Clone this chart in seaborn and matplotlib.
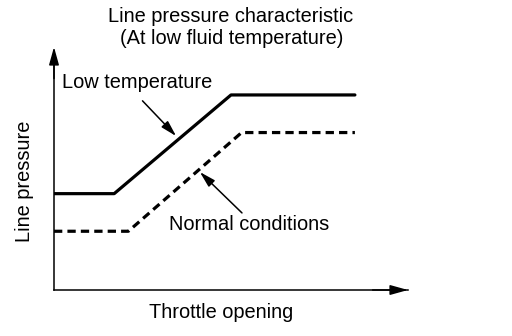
import matplotlib
matplotlib.use("Agg")
import matplotlib.pyplot as plt
import seaborn as sns
import pandas as pd

# Throttle opening vs. line pressure (schematic, relative units 0-100)
low_temp_x = [0, 17, 50, 85]
low_temp_y = [41, 41, 83, 83]
normal_x = [0, 21, 53, 85]
normal_y = [25, 25, 67, 67]

df = pd.concat([
    pd.DataFrame({"throttle": low_temp_x, "pressure": low_temp_y, "state": "Low temperature"}),
    pd.DataFrame({"throttle": normal_x, "pressure": normal_y, "state": "Normal conditions"}),
])

sns.set_theme(style="white")
plt.rcParams["font.family"] = ["Liberation Sans", "DejaVu Sans"]

W, H = 512, 336
fig = plt.figure(figsize=(W / 100, H / 100), dpi=100)
ox, oy, xt, yt = 54, 290, 408, 55
ax = fig.add_axes([ox / W, 1 - oy / H, (xt - ox) / W, (oy - yt) / H])

sns.lineplot(data=df, x="throttle", y="pressure", style="state",
             dashes={"Low temperature": "", "Normal conditions": (2.6, 1.6)},
             color="black", linewidth=2.3, legend=False, ax=ax, sort=False)

ax.set_xlim(0, 100)
ax.set_ylim(0, 100)
ax.set_xticks([])
ax.set_yticks([])
ax.set_xlabel("")
ax.set_ylabel("")
for s in ["top", "right"]:
    ax.spines[s].set_visible(False)
for s in ["left", "bottom"]:
    ax.spines[s].set_color("black")
    ax.spines[s].set_linewidth(1.1)

# axis arrowheads
head = dict(arrowstyle="-|>,head_length=0.9,head_width=0.25", color="black", lw=1.1,
            shrinkA=0, shrinkB=0)
ax.annotate("", xy=(0, 1 + 8 / (oy - yt)), xytext=(0, 0.9), xycoords="axes fraction",
            arrowprops=head, annotation_clip=False)
ax.annotate("", xy=(1, 0), xytext=(0.9, 0), xycoords="axes fraction",
            arrowprops=head, annotation_clip=False)

# callouts
pointer = dict(arrowstyle="-|>,head_length=0.8,head_width=0.22", color="black", lw=1.1,
               shrinkA=0, shrinkB=0)
ax.annotate("", xy=(34.5, 65.5), xytext=(25, 80.5), arrowprops=pointer)
ax.annotate("", xy=(41.2, 50.2), xytext=(53.1, 32.8), arrowprops=pointer)

fs = 14.4


def ptext(x, y, s, **kw):
    fig.text(x / W, 1 - y / H, s, fontsize=fs, color="black", va="center", **kw)


ptext(231, 16, "Line pressure characteristic", ha="center")
ptext(232, 38, "(At low fluid temperature)", ha="center")
ptext(62, 83, "Low temperature", ha="left")
ptext(169, 225, "Normal conditions", ha="left")
ptext(221, 312, "Throttle opening", ha="center")
ptext(25, 181, "Line pressure", ha="center", rotation=90)

fig.savefig("out.png", dpi=100)
